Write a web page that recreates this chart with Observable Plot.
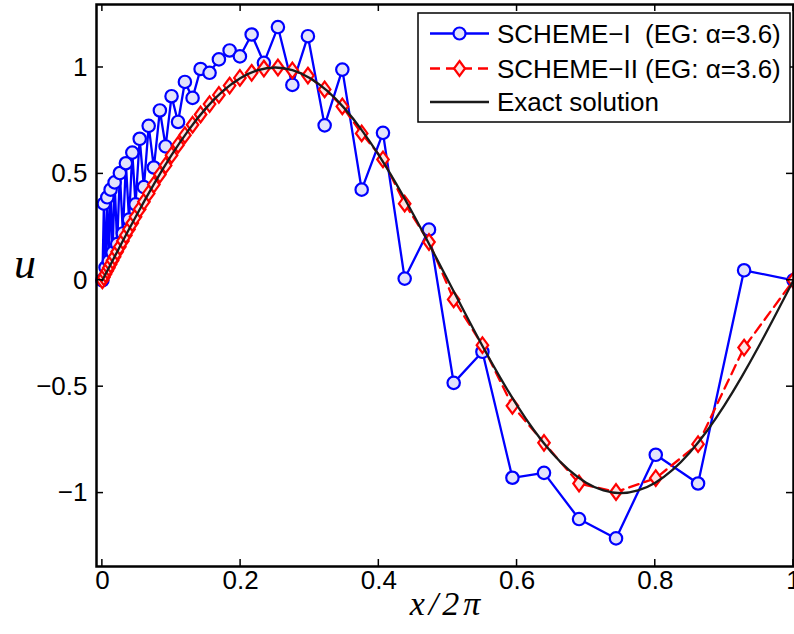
<!DOCTYPE html>
<html><head><meta charset="utf-8">
<script src="https://cdn.jsdelivr.net/npm/d3@7"></script>
<script src="https://cdn.jsdelivr.net/npm/@observablehq/plot@0.6"></script>
<style>body{margin:0;background:#fff} svg{display:block}</style>
</head><body><div id="chart"></div>
<script>
const xGrid = [0, 0.0022, 0.0046, 0.0071, 0.0094, 0.0119, 0.0148, 0.0177, 0.0214, 0.0253, 0.0297, 0.034, 0.0386, 0.0433, 0.048, 0.054, 0.0601, 0.067, 0.0745, 0.0832, 0.0915, 0.1001, 0.1095, 0.1194, 0.1305, 0.1421, 0.1551, 0.1686, 0.1841, 0.199, 0.216, 0.2337, 0.254, 0.2749, 0.2974, 0.3216, 0.3472, 0.3752, 0.406, 0.4374, 0.4726, 0.5083, 0.5499, 0.5933, 0.639, 0.6897, 0.7432, 0.8007, 0.8619, 0.9285, 1];
const scheme1 = [0, 0.36, 0.06, 0.39, 0.09, 0.426, 0.13, 0.46, 0.17, 0.504, 0.22, 0.55, 0.285, 0.60, 0.357, 0.665, 0.438, 0.726, 0.53, 0.798, 0.629, 0.865, 0.744, 0.932, 0.857, 0.993, 0.975, 1.038, 1.08, 1.052, 1.155, 1.022, 1.19, 0.918, 1.147, 0.728, 0.99, 0.426, 0.693, 0.008, 0.238, -0.482, -0.336, -0.928, -0.905, -1.122, -1.213, -0.82, -0.955, 0.047, 0];
const scheme2 = [0, 0.014, 0.029, 0.045, 0.059, 0.075, 0.093, 0.111, 0.134, 0.158, 0.185, 0.212, 0.240, 0.269, 0.298, 0.334, 0.369, 0.408, 0.450, 0.497, 0.540, 0.588, 0.636, 0.682, 0.731, 0.779, 0.828, 0.871, 0.915, 0.951, 0.975, 0.995, 1.0, 0.986, 0.962, 0.897, 0.817, 0.69, 0.568, 0.36, 0.18, -0.09, -0.305, -0.59, -0.764, -0.955, -0.995, -0.93, -0.77, -0.316, 0];
const exactX = [0, 0.025, 0.05, 0.075, 0.1, 0.125, 0.15, 0.175, 0.2, 0.225, 0.25, 0.275, 0.3, 0.325, 0.35, 0.375, 0.4, 0.425, 0.45, 0.475, 0.5, 0.525, 0.55, 0.575, 0.6, 0.625, 0.65, 0.675, 0.7, 0.725, 0.75, 0.775, 0.8, 0.825, 0.85, 0.875, 0.9, 0.925, 0.95, 0.975, 1];
const exactU = [0, 0.1564, 0.3090, 0.4540, 0.5878, 0.7071, 0.8090, 0.8910, 0.9511, 0.9877, 1, 0.9877, 0.9511, 0.8910, 0.8090, 0.7071, 0.5878, 0.4540, 0.3090, 0.1564, 0, -0.1564, -0.3090, -0.4540, -0.5878, -0.7071, -0.8090, -0.8910, -0.9511, -0.9877, -1, -0.9877, -0.9511, -0.8910, -0.8090, -0.7071, -0.5878, -0.4540, -0.3090, -0.1564, 0];
const xTicks = [0, 0.2, 0.4, 0.6, 0.8, 1];
const yTicks = [-1, -0.5, 0, 0.5, 1];
const legendLabels = ["SCHEME\u2212I  (EG: \u03b1=3.6)", "SCHEME\u2212II (EG: \u03b1=3.6)", "Exact solution"];
const xLabel = "x/2\u03c0";
const yLabel = "u";

const s1 = xGrid.map((x, i) => ({x, u: scheme1[i]}));
const s2 = xGrid.map((x, i) => ({x, u: scheme2[i]}));
const ex = exactX.map((x, i) => ({x, u: exactU[i]}));
const fmt = d => (d < 0 ? "\u2212" + Math.abs(d) : String(d));

const BLUE = "#0000ff", RED = "#ff0000", BLACK = "#1a1a1a";
const CFILL = "#e3e3fb", DFILL = "#fde4e4";
const diamond = {
  draw(ctx, size) {
    const r = Math.sqrt(size / Math.PI), w = r * 0.74;
    ctx.moveTo(0, -r); ctx.lineTo(w, 0); ctx.lineTo(0, r); ctx.lineTo(-w, 0); ctx.closePath();
  }
};
const FONT = "'Liberation Sans', Arial, Helvetica, sans-serif";
const SERIF = "'Liberation Serif', 'DejaVu Serif', serif";

const plot = Plot.plot({
  width: 794, height: 634,
  marginLeft: 96, marginRight: 1, marginTop: 4, marginBottom: 68,
  x: {domain: [-0.0085, 1]},
  y: {domain: [-1.345, 1.296]},
  style: {fontFamily: FONT, fontSize: "26px", color: "#000", background: "#fff", overflow: "visible"},
  marks: [
    Plot.axisX(xTicks, {tickSize: 0, tickPadding: 4, tickFormat: fmt, label: null}),
    Plot.axisY(yTicks, {tickSize: 0, tickPadding: 9, tickFormat: fmt, label: null}),
    Plot.line(s1, {x: "x", y: "u", stroke: BLUE, strokeWidth: 2.3}),
    Plot.dot(s1, {x: "x", y: "u", r: 6.2, stroke: BLUE, fill: CFILL, fillOpacity: 1, strokeWidth: 2.2}),
    Plot.line(s2, {x: "x", y: "u", stroke: RED, strokeWidth: 2.3, strokeDasharray: "10,6"}),
    Plot.dot(s2, {x: "x", y: "u", symbol: diamond, r: 7.8, stroke: RED, fill: DFILL, fillOpacity: 1, strokeWidth: 2.2}),
    Plot.line(ex, {x: "x", y: "u", stroke: BLACK, strokeWidth: 2.3, curve: "natural"}),
    Plot.frame({stroke: "#000", strokeWidth: 2.5})
  ]
});
document.getElementById("chart").appendChild(plot);

const svg = d3.select(plot);
const xs = plot.scale("x"), ys = plot.scale("y");
const L = 96, R = 793, T = 4, B = 566, TK = 7;
const tg = svg.append("g").attr("stroke", "#000").attr("stroke-width", 1.5);
xTicks.forEach(t => {
  const px = xs.apply(t);
  tg.append("line").attr("x1", px).attr("x2", px).attr("y1", B).attr("y2", B - TK);
  tg.append("line").attr("x1", px).attr("x2", px).attr("y1", T).attr("y2", T + TK);
});
yTicks.forEach(t => {
  const py = ys.apply(t);
  tg.append("line").attr("x1", L).attr("x2", L + TK).attr("y1", py).attr("y2", py);
  tg.append("line").attr("x1", R).attr("x2", R - TK).attr("y1", py).attr("y2", py);
});

// axis titles
svg.append("text").attr("x", 447).attr("y", 615).attr("text-anchor", "middle")
  .attr("font-family", SERIF).attr("font-style", "italic")
  .attr("font-size", 34).attr("letter-spacing", 4).attr("fill", "#000").text(xLabel);
svg.append("text").attr("x", 25).attr("y", 278).attr("text-anchor", "middle")
  .attr("font-family", SERIF).attr("font-style", "italic")
  .attr("font-size", 44).attr("fill", "#000").text(yLabel);

// legend
const lg = svg.append("g").attr("text-anchor", "start");
lg.append("rect").attr("x", 418).attr("y", 13).attr("width", 372).attr("height", 109)
  .attr("fill", "#fff").attr("stroke", "#000").attr("stroke-width", 1.5);
const rows = [33.5, 68.5, 102];
const styles = [
  {stroke: BLUE, dash: null, marker: "circle"},
  {stroke: RED, dash: "10,6", marker: "diamond"},
  {stroke: BLACK, dash: null, marker: null}
];
rows.forEach((ry, i) => {
  const st = styles[i];
  const ln = lg.append("line").attr("x1", 430).attr("x2", 489).attr("y1", ry).attr("y2", ry)
    .attr("stroke", st.stroke).attr("stroke-width", 2.3);
  if (st.dash) ln.attr("stroke-dasharray", st.dash);
  if (st.marker === "circle") {
    lg.append("circle").attr("cx", 459.5).attr("cy", ry).attr("r", 6)
      .attr("fill", CFILL).attr("stroke", BLUE).attr("stroke-width", 2.2);
  } else if (st.marker === "diamond") {
    lg.append("path").attr("d", `M459.5,${ry - 7.5}L${459.5 + 5.5},${ry}L459.5,${ry + 7.5}L${459.5 - 5.5},${ry}Z`)
      .attr("fill", DFILL).attr("stroke", RED).attr("stroke-width", 2.2);
  }
  lg.append("text").attr("x", 497).attr("y", ry).attr("dy", "0.36em").attr("text-anchor", "start")
    .attr("font-family", FONT).attr("font-size", 26).attr("fill", "#000")
    .style("white-space", "pre").text(legendLabels[i]);
});
</script>
</body></html>
